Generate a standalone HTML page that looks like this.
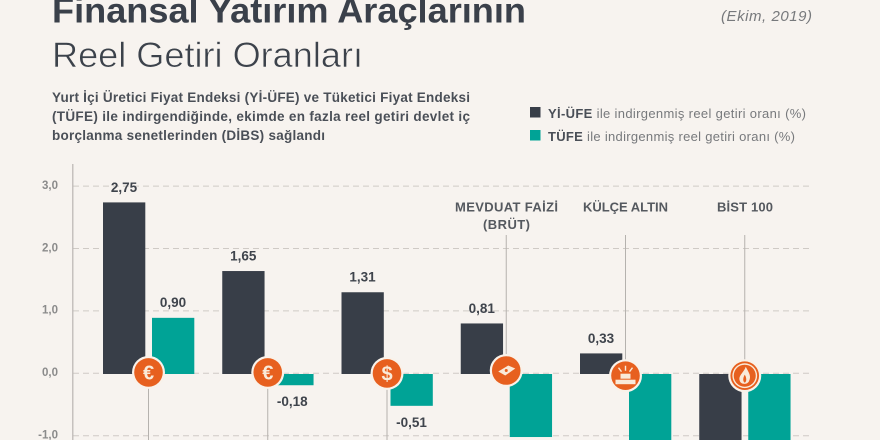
<!DOCTYPE html>
<html lang="tr">
<head>
<meta charset="utf-8">
<title>Finansal Yatırım Araçlarının Reel Getiri Oranları</title>
<style>
html,body{margin:0;padding:0;width:880px;height:440px;overflow:hidden;background:#f7f3ef}
svg{display:block;overflow:hidden;font-family:"Liberation Sans",sans-serif}
</style>
</head>
<body>
<svg id="chart" xmlns="http://www.w3.org/2000/svg" width="880" height="440" viewBox="0 0 880 440">
  <rect width="880" height="440" fill="#f7f3ef"/>
  <text x="52" y="22.5" font-size="35" font-weight="700" fill="#3a404a" textLength="474" lengthAdjust="spacingAndGlyphs">Finansal Yatırım Araçlarının</text>
  <text x="52" y="67" font-size="35" fill="#3c424b" stroke="#f7f3ef" stroke-width="0.6" textLength="311" lengthAdjust="spacingAndGlyphs">Reel Getiri Oranları</text>
  <text x="721" y="21" font-size="15" font-style="italic" fill="#77797c" textLength="91">(Ekim, 2019)</text>
  <g font-size="13.5" font-weight="700" fill="#4a4f57">
    <text x="52" y="102" textLength="418">Yurt İçi Üretici Fiyat Endeksi (Yİ-ÜFE) ve Tüketici Fiyat Endeksi</text>
    <text x="52" y="121" textLength="418">(TÜFE) ile indirgendiğinde, ekimde en fazla reel getiri devlet iç</text>
    <text x="52" y="140" textLength="273">borçlanma senetlerinden (DİBS) sağlandı</text>
  </g>
  <g font-size="13" fill="#77797c">
    <g>
      <rect x="530" y="107" width="10.5" height="10.5" fill="#383e48"/>
      <text x="548" y="118" textLength="258"><tspan font-weight="700" fill="#4a4f57">Yİ-ÜFE</tspan> ile indirgenmiş reel getiri oranı (%)</text>
    </g>
    <g>
      <rect x="530" y="130" width="10.5" height="10.5" fill="#00a396"/>
      <text x="548" y="141" textLength="247"><tspan font-weight="700" fill="#4a4f57">TÜFE</tspan> ile indirgenmiş reel getiri oranı (%)</text>
    </g>
  </g>
  <g font-size="13" font-weight="700" fill="#55595f">
    <text x="455" y="211.5" textLength="103">MEVDUAT FAİZİ</text>
    <text x="483" y="229" textLength="47">(BRÜT)</text>
    <text x="583" y="211.5" textLength="85">KÜLÇE ALTIN</text>
    <text x="717" y="211.5" textLength="56">BİST 100</text>
  </g>
  <g id="plot"></g>
</svg>
<script>
const categories = ["Euro DİBS", "Euro", "Dolar", "Mevduat Faizi (Brüt)", "Külçe Altın", "BİST 100"];
const yiUfeValues = [2.75, 1.65, 1.31, 0.81, 0.33, -1.10];
const tufeValues = [0.90, -0.18, -0.51, -1.01, -1.46, -1.28];
const yTicks = [3, 2, 1, 0, -1];
const stemsUp = [false, false, false, true, true, true];
const iconKinds = ["euro", "euro", "dollar", "cash", "gold", "fire"];

const NS = "http://www.w3.org/2000/svg";
const plot = document.getElementById("plot");
const yOf = v => 374 - v * 62.4;
const xOf = i => 148.5 + i * 119.25;
const fmt = v => v.toFixed(2).replace(".", ",");
const make = (tag, attrs, parent, text) => {
  const el = document.createElementNS(NS, tag);
  for (const k in attrs) el.setAttribute(k, attrs[k]);
  if (text !== undefined) el.textContent = text;
  parent.appendChild(el);
  return el;
};

yTicks.forEach(t => {
  const gy = yOf(t) - 0.7;
  const line = make("line", {x1: 73, x2: 812, y1: gy, y2: gy, stroke: "#cfcac5", "stroke-width": 1, "stroke-dasharray": "6 4"}, plot);
  
  
  const label = make("text", {x: 58, y: gy + 2.8, "text-anchor": "end", "font-size": 11.5, "font-weight": 700, fill: "#8b8b8b"}, plot, t.toFixed(1).replace(".", ","));
  
  
});

const axis = make("line", {x1: 72.8, x2: 72.8, y1: 164, y2: 440, stroke: "#b9b5b1", "stroke-width": 1.2}, plot);



categories.forEach((c, i) => {
  const cx = xOf(i);
  const stem = make("line", {x1: cx, x2: cx, y1: stemsUp[i] ? 235 : yOf(0), y2: stemsUp[i] ? yOf(0) : 440, stroke: "#b5b2ae", "stroke-width": 1}, plot);
  
  
});

const drawBar = (v, x, fill, name) => {
  const y0 = yOf(0), y1 = yOf(v);
  const bar = make("rect", {x: x, y: Math.min(y0, y1), width: 42.3, height: Math.abs(y1 - y0), fill: fill}, plot);
  
  
  const label = make("text", {x: x + 21, y: v >= 0 ? y1 - 10.6 : y1 + 21, "text-anchor": "middle", "font-size": 13.5, "font-weight": 700, fill: "#3f444c"}, plot, fmt(v));
  
  
};

categories.forEach((c, i) => {
  drawBar(yiUfeValues[i], xOf(i) - 45.5, "#383e48", "bar-yi-ufe");
  drawBar(tufeValues[i], xOf(i) + 3.5, "#00a396", "bar-tufe");
});

const drawIcon = (kind, cx, cy) => {
  const g = make("g", {}, plot);
  
  
  make("circle", {cx: cx, cy: cy, r: 16.5, fill: "#f9f2ea"}, g);
  make("circle", {cx: cx, cy: cy, r: 14.3, fill: "#e7601f"}, g);
  const ink = "#f9ead9";
  if (kind === "euro" || kind === "dollar") {
    make("text", {x: cx, y: cy + 7, "text-anchor": "middle", "font-size": 20, "font-weight": 700, fill: ink}, g, kind === "euro" ? "€" : "$");
  } else if (kind === "cash") {
    make("path", {d: `M${cx-8} ${cy+1}L${cx+2} ${cy-5}L${cx+9} ${cy-2}L${cx-1} ${cy+5}Z`, fill: ink}, g);
    make("circle", {cx: cx, cy: cy, r: 1.5, fill: "#e7601f"}, g);
  } else if (kind === "gold") {
    make("rect", {x: cx - 5, y: cy - 2, width: 10, height: 5, fill: ink}, g);
    make("rect", {x: cx - 10, y: cy + 4, width: 20, height: 4.5, fill: ink}, g);
    make("path", {d: `M${cx} ${cy-10}V${cy-5}M${cx-7} ${cy-8}L${cx-4} ${cy-4}M${cx+7} ${cy-8}L${cx+4} ${cy-4}`, stroke: ink, "stroke-width": 1.4, fill: "none"}, g);
  } else {
    make("circle", {cx: cx, cy: cy, r: 12.4, fill: ink}, g);
    make("circle", {cx: cx, cy: cy, r: 11, fill: "#e7601f"}, g);
    make("path", {d: `M${cx+1} ${cy-9}C${cx+4} ${cy-3} ${cx+7} ${cy} ${cx+4} ${cy+6}C${cx+2} ${cy+9} ${cx-4} ${cy+9} ${cx-5} ${cy+5}C${cx-7} ${cy} ${cx-1} ${cy-3} ${cx+1} ${cy-9}Z`, fill: ink}, g);
    make("path", {d: `M${cx} ${cy-1}C${cx+2} ${cy+2} ${cx+2} ${cy+6} ${cx} ${cy+7}C${cx-2} ${cy+6} ${cx-2} ${cy+2} ${cx} ${cy-1}Z`, fill: "#e7601f"}, g);
  }
};

const iconNudge = {euro: -1.6, dollar: -0.6, cash: -3.5, gold: 1.7, fire: 1.7};
iconKinds.forEach((k, i) => {
  drawIcon(k, xOf(i), yOf(0) + iconNudge[k]);
});
</script>
</body>
</html>
